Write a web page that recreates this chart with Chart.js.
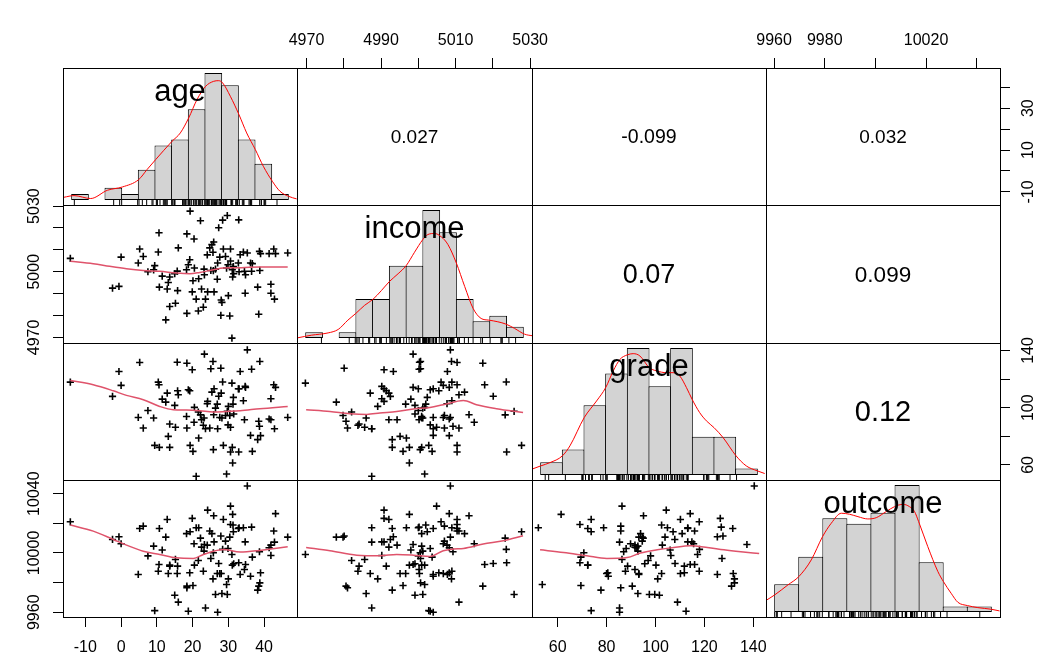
<!DOCTYPE html>
<html>
<head>
<meta charset="utf-8">
<script src="https://cdn.jsdelivr.net/npm/chart.js"></script>
<style>
html,body{margin:0;padding:0;background:#fff;overflow:hidden}
#wrap{position:relative;width:1057px;height:672px}
#wrap canvas{position:absolute;left:0;top:0}
</style>
</head>
<body>
<div id="wrap"></div>
<script>
// ---------------- data ----------------
const varNames = ['age', 'income', 'grade', 'outcome'];

const age = [-14.2,-2.4,-0.6,0.0,4.8,5.2,6.2,7.5,9.1,9.4,
 10.4,10.6,10.7,11.5,12.5,12.9,13.2,13.6,13.6,15.0,
 15.2,15.7,15.8,16.0,18.3,18.4,18.4,18.8,19.2,19.3,
 19.9,20.1,20.4,20.5,21.0,21.6,21.7,22.2,22.5,23.0,
 23.2,23.3,23.6,24.1,24.2,24.8,25.1,25.4,25.7,25.8,
 25.9,26.0,26.4,26.9,27.0,27.3,27.6,27.9,28.0,28.2,
 28.4,28.6,29.2,29.5,29.7,29.9,30.0,30.4,30.6,30.6,
 31.0,31.1,31.2,31.3,31.4,31.5,32.8,32.9,33.0,33.3,
 34.2,34.5,34.7,34.8,35.3,36.2,36.5,36.7,38.2,38.5,
 38.7,38.8,39.0,41.4,41.9,41.9,42.7,42.9,43.2,46.6];

const income = [5006.1,4992.5,4993.3,5006.7,5004.0,5010.4,5007.0,5000.0,5000.9,5002.8,
 5009.0,5017.8,4993.0,4998.0,4978.0,4992.1,4995.1,4997.6,4984.1,4999.1,
 4985.6,5000.3,4991.4,5010.9,5000.9,5017.3,4981.0,5003.2,5005.5,5027.7,
 4990.8,4995.9,5015.0,5001.7,4987.5,4982.1,4996.8,5023.3,4992.1,4983.8,
 5001.2,4998.6,4987.5,5007.7,4990.8,5010.9,5000.6,5012.4,5008.9,5000.5,
 5013.6,4990.8,5001.2,4996.6,5004.0,5020.1,5006.7,4980.1,4987.1,4986.0,
 5023.6,5010.4,5007.0,5001.7,5025.7,5003.2,4989.1,4979.8,5010.4,5004.9,
 4969.7,5000.9,4997.6,5002.0,5002.4,4999.1,5004.0,5023.7,5000.0,5007.8,
 5009.0,5000.2,4990.2,4998.6,5008.6,5004.0,5000.2,5003.7,4993.0,4980.6,
 5009.3,5000.6,5008.3,5008.3,4994.3,4990.2,5010.4,4987.5,5008.3,5008.6];

const grade = [117.9,107.9,125.3,115.6,93.2,131.6,85.8,98.0,92.8,73.7,
 117.9,116.0,72.3,106.0,103.9,110.2,80.0,72.3,88.6,101.6,
 86.3,131.8,111.8,109.0,93.9,131.1,85.8,112.5,111.8,73.7,
 126.5,69.5,89.8,100.2,52.1,97.0,78.8,95.0,91.6,87.7,
 92.8,137.4,85.3,102.8,104.4,85.8,127.2,110.9,132.3,70.7,
 95.1,113.2,99.7,102.5,85.3,108.0,93.2,127.6,110.2,92.8,
 118.0,73.7,94.6,53.7,97.5,88.0,100.9,94.6,69.1,86.3,
 117.2,72.3,61.4,102.5,107.2,95.6,113.2,69.1,113.2,125.3,
 104.9,91.6,114.9,114.2,140.4,80.7,126.9,69.5,77.7,90.5,
 87.0,132.3,80.5,92.1,91.6,106.3,116.0,85.3,114.2,93.2];

const outcome = [10021.0,10009.1,10010.9,10006.2,9985.5,10016.5,10018.1,9998.0,10004.6,9961.1,
 9987.7,9992.2,10016.5,10002.0,10010.7,10022.6,9986.1,9991.8,9991.1,9971.5,
 9995.6,9986.1,9991.1,9966.8,10013.0,9977.6,9976.5,9960.7,9986.6,10014.3,
 10023.3,9978.0,10006.2,9991.8,10017.0,9994.9,10017.0,10010.0,10003.9,9987.7,
 10001.2,10005.7,9962.9,10005.3,10028.9,10014.8,9996.3,10013.0,9982.5,10000.1,
 10025.1,10007.5,9972.0,9986.1,9960.0,9992.9,9986.1,10011.4,9986.1,9972.6,
 10002.4,10022.6,10008.0,9978.7,9972.0,10003.0,9982.5,10010.7,10019.2,10031.6,
 9999.0,9991.8,10026.0,10018.8,10014.3,9992.7,10016.5,9993.4,10017.0,9985.5,
 10017.0,9988.8,10007.5,9992.2,10045.2,9984.3,10017.4,9997.2,9974.9,9977.6,
 10000.8,9979.8,9986.6,10003.5,10005.3,9998.3,10014.8,10007.3,10026.5,10010.7];

// histograms (breaks and counts)
const ageBreaks = [-15,-10,-5,0,5,10,15,20,25,30,35,40,45,50];
const ageCounts = [1,0,2,1,5,9,10,15,21,19,10,6,1];
const incomeBreaks = [4965,4970,4975,4980,4985,4990,4995,5000,5005,5010,5015,5020,5025,5030];
const incomeCounts = [1,0,1,7,7,13,13,23,19,7,3,4,2];
const gradeBreaks = [50,60,70,80,90,100,110,120,130,140,150];
const gradeCounts = [2,4,11,16,20,14,20,6,6,1];
const outcomeBreaks = [9960,9970,9980,9990,10000,10010,10020,10030,10040,10050];
const outcomeCounts = [5,10,17,16,18,23,9,1,1];

// density curves (relative height)
const ageDensity = [[-17.3,0.021],[-14.3,0.034],[-9.3,0.011],[-4.3,0.076],[0.2,0.102],[5.1,0.160],[7.6,0.239],[10.2,0.318],[15.1,0.462],[17.6,0.528],[20.1,0.646],[22.6,0.791],[25.2,0.896],[27.6,0.935],[29.1,0.940],[30.3,0.922],[32.6,0.817],[35.2,0.672],[37.5,0.528],[40.1,0.397],[42.5,0.265],[45.2,0.147],[47.5,0.068],[50.0,0.029],[52.5,0.008]];
const incomeDensity = [[4962.5,0.0],[4966.7,0.021],[4971.7,0.039],[4974.7,0.066],[4977.6,0.139],[4980.0,0.192],[4982.6,0.255],[4985.1,0.302],[4987.6,0.370],[4990.0,0.441],[4992.6,0.502],[4995.0,0.565],[4997.5,0.670],[5000.0,0.770],[5001.5,0.809],[5003.5,0.817],[5005.5,0.791],[5007.5,0.730],[5010.0,0.586],[5012.5,0.402],[5015.0,0.231],[5017.4,0.152],[5019.7,0.139],[5022.4,0.126],[5024.8,0.108],[5027.4,0.074],[5030.4,0.029],[5032.9,0.016]];
const gradeDensity = [[45.9,0.045],[50.0,0.071],[54.3,0.097],[60.0,0.150],[63.5,0.229],[70.1,0.452],[75.8,0.583],[80.0,0.688],[83.5,0.820],[86.6,0.911],[89.9,0.946],[92.7,0.956],[95.8,0.938],[100.1,0.846],[103.5,0.820],[108.1,0.806],[111.1,0.806],[114.2,0.780],[117.3,0.688],[119.9,0.596],[123.4,0.491],[126.5,0.426],[130.0,0.373],[134.2,0.294],[140.2,0.150],[144.9,0.071],[150.0,0.032],[153.4,0.011]];
const outcomeDensity = [[9956.1,0.087],[9960.0,0.134],[9965.5,0.213],[9970.0,0.278],[9975.2,0.410],[9979.9,0.594],[9983.5,0.699],[9987.7,0.778],[9991.1,0.770],[9994.6,0.751],[9998.7,0.733],[10002.2,0.743],[10006.3,0.791],[10009.8,0.830],[10013.3,0.848],[10016.0,0.830],[10018.1,0.791],[10019.8,0.712],[10023.6,0.515],[10027.8,0.318],[10030.1,0.239],[10033.3,0.147],[10036.1,0.076],[10040.1,0.050],[10044.4,0.034],[10050.0,0.021],[10053.4,0.008]];

// smoothed (lowess) lines in the lower panels
const smoothAgeIncome = [[-14.2,5004.8],[-7.8,5003.7],[-3.2,5002.5],[1.5,5001.4],[6.2,5000.6],[10.8,5000.2],[15.5,4999.4],[19.2,4999.1],[22.0,4999.7],[25.8,5000.9],[28.6,5001.7],[31.4,5001.8],[38.8,5002.2],[46.6,5002.2]];
const smoothAgeGrade = [[-14.2,119.0],[-7.8,116.0],[-2.2,111.8],[1.5,108.6],[6.2,105.6],[10.8,100.9],[14.6,98.6],[18.3,98.4],[22.0,97.9],[25.8,97.0],[29.5,97.4],[33.3,97.9],[38.8,99.3],[46.6,100.9]];
const smoothAgeOutcome = [[-14.2,10018.8],[-7.8,10014.7],[-2.2,10009.1],[1.5,10005.3],[6.2,10001.2],[10.8,9999.0],[15.5,9996.7],[20.2,9996.3],[23.0,9999.0],[25.8,10001.2],[28.6,10002.4],[33.3,10000.6],[38.8,10001.7],[46.6,10004.2]];
const smoothIncomeGrade = [[4969.9,98.6],[4976.3,97.4],[4981.7,95.8],[4986.2,95.3],[4989.7,96.3],[4994.2,97.4],[4998.7,99.1],[5003.1,100.2],[5006.7,102.1],[5012.1,105.1],[5015.6,102.1],[5021.0,99.3],[5028.1,96.7]];
const smoothIncomeOutcome = [[4969.9,10003.7],[4976.3,10001.5],[4983.5,9998.5],[4989.7,9998.1],[4994.2,9999.0],[4998.7,9998.5],[5003.1,9997.6],[5006.7,10001.5],[5009.4,10002.6],[5012.1,10003.0],[5017.4,10006.0],[5022.8,10008.2],[5028.1,10011.6]];
const smoothGradeOutcome = [[52.8,10002.1],[62.4,10000.3],[71.9,9998.1],[80.1,9996.3],[88.4,9996.9],[93.8,9999.9],[100.7,10002.1],[107.5,10003.7],[114.3,10004.8],[121.2,10003.7],[128.0,10002.1],[134.9,10000.8],[142.4,9999.6]];

// correlations shown in the upper panels (row, col)
const corrRow1 = ['0.027', '-0.099', '0.032'];
const corrRow2 = ['0.07', '0.099'];
const corrRow3 = ['0.12'];

// tick values and the labels R printed on each side
const ageTicks = [-10, 0, 10, 20, 30, 40];
const incomeTicks = [4970, 4980, 4990, 5000, 5010, 5020, 5030];
const gradeTicks = [60, 80, 100, 120, 140];
const outcomeTicks = [9960, 9980, 10000, 10020, 10040];
const ageRightLabels = [-10, 10, 30];
const incomeTopLabels = [4970, 4990, 5010, 5030];
const incomeLeftLabels = [4970, 5000, 5030];
const gradeRightLabels = [60, 100, 140];
const outcomeTopLabels = [9960, 9980, 10020];
const outcomeLeftLabels = [9960, 10000, 10040];

// ---------------- layout / style ----------------
const W = 1057, H = 672;
const colEdges = [63, 297, 532, 766, 1000];
const rowEdges = [68, 205, 343, 480, 617];
const AX = 50;
const FAMILY = '"Liberation Sans", Arial, Helvetica, sans-serif';
const TICKFONT = {family: FAMILY, size: 16};
const corrSizes = {'0,1': 19, '0,2': 19.5, '0,3': 19, '1,2': 27, '1,3': 22.5, '2,3': 29};

const vars = [
  {data: age, lim: [-16.25, 49.2], ticks: ageTicks, breaks: ageBreaks, counts: ageCounts, density: ageDensity,
   labels: {bottom: ageTicks, right: ageRightLabels}},
  {data: income, lim: [4967.45, 5030.5], ticks: incomeTicks, breaks: incomeBreaks, counts: incomeCounts, density: incomeDensity,
   labels: {top: incomeTopLabels, left: incomeLeftLabels}},
  {data: grade, lim: [49.5, 145.2], ticks: gradeTicks, breaks: gradeBreaks, counts: gradeCounts, density: gradeDensity,
   labels: {bottom: gradeTicks, right: gradeRightLabels}},
  {data: outcome, lim: [9956.8, 10049.2], ticks: outcomeTicks, breaks: outcomeBreaks, counts: outcomeCounts, density: outcomeDensity,
   labels: {top: outcomeTopLabels, left: outcomeLeftLabels}}
];
const smooths = {'1,0': smoothAgeIncome, '2,0': smoothAgeGrade, '3,0': smoothAgeOutcome,
                 '2,1': smoothIncomeGrade, '3,1': smoothIncomeOutcome, '3,2': smoothGradeOutcome};
const corrs = {'0,1': corrRow1[0], '0,2': corrRow1[1], '0,3': corrRow1[2], '1,2': corrRow2[0], '1,3': corrRow2[1], '2,3': corrRow3[0]};

const mctx = document.createElement('canvas').getContext('2d');
function textWidth(t) { mctx.font = '16px ' + FAMILY; return mctx.measureText(t).width; }

function axisScale(v, pos, show) {
  const horizontal = (pos === 'top' || pos === 'bottom');
  const shown = show ? (v.labels[pos] || []) : [];
  const cfg = {
    type: 'linear', position: pos, display: show,
    min: v.lim[0], max: v.lim[1],
    afterBuildTicks: s => { s.ticks = v.ticks.map(t => ({value: t})); },
    grid: {drawOnChartArea: false, drawTicks: true, tickLength: 10, color: '#000', lineWidth: 1},
    border: {display: false},
    ticks: {autoSkip: false, font: TICKFONT, color: '#000',
            callback: val => shown.includes(val) ? String(val) : ''}
  };
  if (show) {
    cfg.afterFit = s => { if (horizontal) s.height = AX; else s.width = AX; };
  }
  if (show && !horizontal) {
    const widest = Math.max(...shown.map(t => textWidth(String(t))));
    const offset = pos === 'left' ? 28 : 29;
    cfg.ticks.minRotation = 90; cfg.ticks.maxRotation = 90;
    cfg.ticks.crossAlign = 'center';
    cfg.ticks.padding = offset - 10 - widest / 2;
  } else {
    cfg.ticks.maxRotation = 0; cfg.ticks.minRotation = 0;
    cfg.ticks.padding = pos === 'bottom' ? 11 : 8;
  }
  return cfg;
}

const deco = {
  id: 'deco',
  afterDraw(chart, args, opts) {
    const {ctx, chartArea: a} = chart;
    ctx.save();
    if (opts.text) {
      ctx.fillStyle = '#000';
      ctx.font = opts.size + 'px ' + FAMILY;
      ctx.textAlign = 'center';
      ctx.textBaseline = 'middle';
      const cy = opts.fromTop ? a.top + opts.fromTop : (a.top + a.bottom) / 2 + 1.5;
      ctx.fillText(opts.text, (a.left + a.right) / 2, cy);
    }
    ctx.strokeStyle = '#000';
    ctx.lineWidth = 1;
    ctx.strokeRect(Math.round(a.left) + 0.5, Math.round(a.top) + 0.5,
                   Math.round(a.right - a.left), Math.round(a.bottom - a.top));
    ctx.restore();
  }
};

const wrap = document.getElementById('wrap');

function makePanel(i, j) {
  const canvas = document.createElement('canvas');
  canvas.width = W; canvas.height = H;
  canvas.style.width = W + 'px'; canvas.style.height = H + 'px';
  wrap.appendChild(canvas);
  const L = colEdges[j], R = colEdges[j + 1], T = rowEdges[i], B = rowEdges[i + 1];
  const showBottom = (i === 3 && j % 2 === 0);
  const showTop = (i === 0 && j % 2 === 1);
  const showLeft = (j === 0 && i % 2 === 1);
  const showRight = (j === 3 && i % 2 === 0);
  const xv = vars[j], yv = vars[i];
  let type = 'scatter', scales, datasets, decoOpts = {};

  if (i === j) {
    type = 'bar';
    const b = xv.breaks, span = b[b.length - 1] - b[0];
    const maxC = Math.max(...xv.counts);
    const binPx = (R - L) / (1.08 * xv.counts.length);
    scales = {
      x: {type: 'linear', display: false, offset: false, grid: {offset: false},
          min: b[0] - 0.04 * span, max: b[b.length - 1] + 0.04 * span},
      y: {type: 'linear', display: false, min: -0.04, max: 1.04}
    };
    datasets = [
      {type: 'line', data: xv.density.map(p => ({x: p[0], y: p[1]})), borderColor: '#FF0000',
       borderWidth: 1, pointRadius: 0, cubicInterpolationMode: 'monotone', fill: false},
      {type: 'scatter', data: xv.data.map(v => ({x: v, y: -0.02})), pointStyle: 'line', pointRotation: 90,
       pointRadius: 2.5, pointBorderColor: '#000', pointBorderWidth: 1, pointBackgroundColor: '#000'},
      {type: 'bar', data: xv.counts.map((c, k) => ({x: (b[k] + b[k + 1]) / 2, y: c / maxC})),
       backgroundColor: '#D3D3D3', borderColor: '#000', borderWidth: 1, borderSkipped: false,
       barPercentage: (binPx + 1) / binPx, categoryPercentage: 1, grouped: false}
    ];
    decoOpts = {text: varNames[i], size: 31, fromTop: 24};
  } else {
    scales = {
      x: axisScale(xv, showTop ? 'top' : 'bottom', showTop || showBottom),
      y: axisScale(yv, showLeft ? 'left' : 'right', showLeft || showRight)
    };
    if (i > j) {
      const sm = smooths[i + ',' + j];
      datasets = [
        {type: 'line', data: sm.map(p => ({x: p[0], y: p[1]})), borderColor: '#DF536B', borderWidth: 1.5,
         pointRadius: 0, cubicInterpolationMode: 'monotone', fill: false},
        {type: 'scatter', data: xv.data.map((v, k) => ({x: v, y: yv.data[k]})), pointStyle: 'cross',
         pointRadius: 3.6, pointBorderColor: '#000', pointBorderWidth: 1.6, pointBackgroundColor: '#000'}
      ];
    } else {
      datasets = [];
      const key = i + ',' + j;
      decoOpts = {text: corrs[key], size: corrSizes[key]};
    }
  }

  new Chart(canvas, {
    type: type,
    data: {datasets: datasets},
    options: {
      responsive: false, animation: false, devicePixelRatio: 1, events: [],
      layout: {padding: {
        left: L - (showLeft ? AX : 0),
        right: W - R - (showRight ? AX : 0),
        top: T - (showTop ? AX : 0),
        bottom: H - B - (showBottom ? AX : 0)
      }},
      scales: scales,
      plugins: {legend: {display: false}, tooltip: {enabled: false}, title: {display: false}, deco: decoOpts}
    },
    plugins: [deco]
  });
}

for (let i = 0; i < 4; i++) for (let j = 0; j < 4; j++) makePanel(i, j);
</script>
</body>
</html>
